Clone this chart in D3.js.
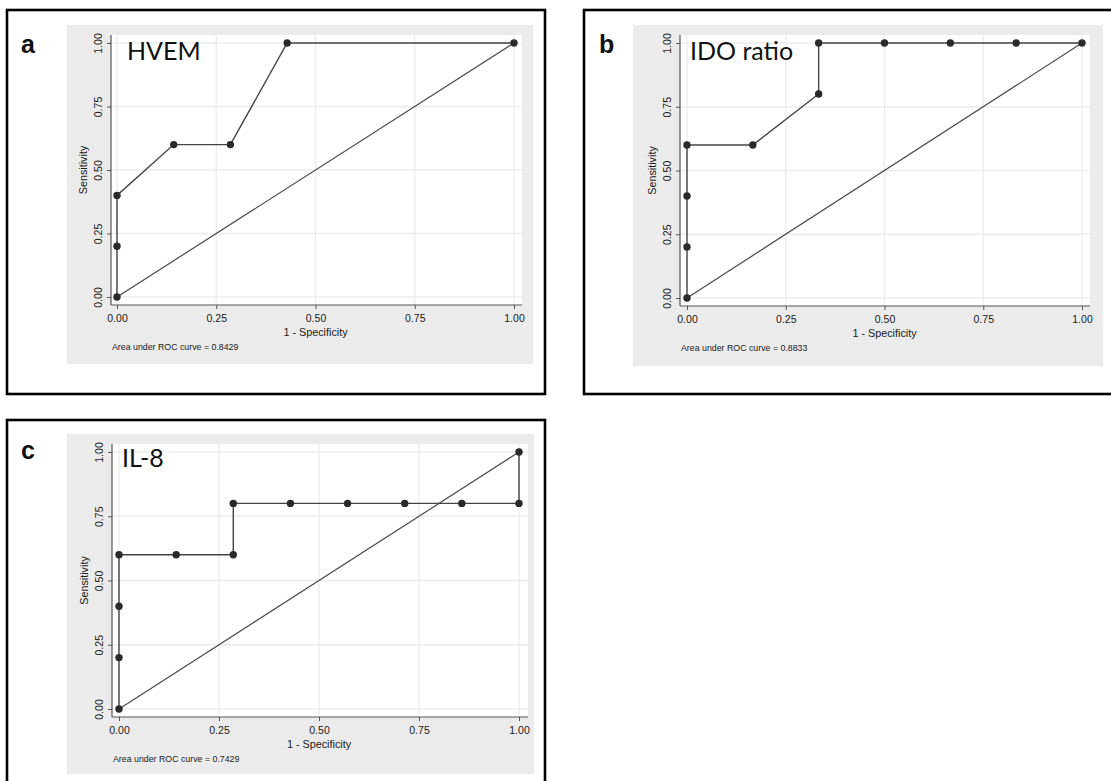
<!DOCTYPE html>
<html>
<head>
<meta charset="utf-8">
<script src="https://cdn.jsdelivr.net/npm/d3@7"></script>
<style>
  body { margin: 0; background: #fff; }
  svg { display: block; }
  text { font-family: "Liberation Sans", Arial, sans-serif; fill: #1a1a1a; }
  .title { font-family: Lato, "Open Sans", sans-serif; font-size: 25px; fill: #111; }
  .letter { font-weight: bold; font-size: 25px; fill: #111; }
</style>
</head>
<body>
<svg id="fig"></svg>
<script>
// ROC data (1 - specificity, sensitivity)
var hvemFpr = [0, 0, 0, 0.1429, 0.2857, 0.4286, 1];
var hvemTpr = [0, 0.2, 0.4, 0.6, 0.6, 1, 1];

var idoFpr = [0, 0, 0, 0, 0.1667, 0.3333, 0.3333, 0.5, 0.6667, 0.8333, 1];
var idoTpr = [0, 0.2, 0.4, 0.6, 0.6, 0.8, 1, 1, 1, 1, 1];

var il8Fpr = [0, 0, 0, 0, 0.1429, 0.2857, 0.2857, 0.4286, 0.5714, 0.7143, 0.8571, 1, 1];
var il8Tpr = [0, 0.2, 0.4, 0.6, 0.6, 0.6, 0.8, 0.8, 0.8, 0.8, 0.8, 0.8, 1];

var panelLetters = ["a", "b", "c"];
var panelTitles = ["HVEM", "IDO ratio", "IL-8"];
var aucValues = ["0.8429", "0.8833", "0.7429"];
var rocTicks = [0, 0.25, 0.5, 0.75, 1];

var screen = { width: 1111, height: 781 };

//layout of each panel on the page
var layouts = [
  { box: [7, 10, 538, 384], bg: [67, 25, 466, 339], frame: [111, 522, 35, 305],
    xr: [117, 514], yr: [297, 43], letter: [21, 53], title: [127, 60] },
  { box: [584, 10, 540, 384], bg: [633, 25, 470, 341], frame: [680, 1090, 35, 306],
    xr: [687, 1082], yr: [298, 43], letter: [599, 53], title: [690, 60] },
  { box: [7, 420, 538, 380], bg: [67, 434, 467, 340], frame: [112, 528, 444, 717],
    xr: [119, 519], yr: [709, 452], letter: [21, 459], title: [122, 467] }
];

var series = [
  { fpr: hvemFpr, tpr: hvemTpr },
  { fpr: idoFpr, tpr: idoTpr },
  { fpr: il8Fpr, tpr: il8Tpr }
];

var svg = d3.select("#fig").attr("width", screen.width).attr("height", screen.height);
var fmt = d3.format(".2f");

var drawPanel = function (i) {
  var L = layouts[i];
  var f = L.frame;
  var g = svg.append("g").classed("panel", true);

  g.append("rect")
    .attr("x", L.box[0]).attr("y", L.box[1])
    .attr("width", L.box[2]).attr("height", L.box[3])
    .attr("fill", "#fff").attr("stroke", "#000").attr("stroke-width", 2.6);

  g.append("rect")
    .attr("x", L.bg[0]).attr("y", L.bg[1])
    .attr("width", L.bg[2]).attr("height", L.bg[3])
    .attr("fill", "#ebebeb");

  g.append("rect")
    .attr("x", f[0]).attr("y", f[2])
    .attr("width", f[1] - f[0]).attr("height", f[3] - f[2])
    .attr("fill", "#fff");

  var x = d3.scaleLinear().domain([0, 1]).range(L.xr);
  var y = d3.scaleLinear().domain([0, 1]).range(L.yr);

  //grid
  var grid = g.append("g").attr("stroke", "#ececec").attr("stroke-width", 1.3);
  grid.selectAll("line.v").data(rocTicks).enter().append("line")
    .attr("x1", function (d) { return x(d); }).attr("x2", function (d) { return x(d); })
    .attr("y1", f[2]).attr("y2", f[3]);
  grid.selectAll("line.h").data(rocTicks).enter().append("line")
    .attr("y1", function (d) { return y(d); }).attr("y2", function (d) { return y(d); })
    .attr("x1", f[0]).attr("x2", f[1]);

  //axes
  var xAxis = d3.axisBottom(x).tickValues(rocTicks).tickFormat(fmt).tickSize(4).tickSizeOuter(0);
  var yAxis = d3.axisLeft(y).tickValues(rocTicks).tickFormat(fmt).tickSize(4).tickSizeOuter(0);

  var xg = g.append("g").attr("transform", "translate(0," + f[3] + ")").call(xAxis);
  xg.select(".domain").attr("d", "M" + f[0] + ",0H" + f[1]);
  var yg = g.append("g").attr("transform", "translate(" + f[0] + ",0)").call(yAxis);
  yg.select(".domain").attr("d", "M0," + f[2] + "V" + f[3]);

  [xg, yg].forEach(function (a) {
    a.select(".domain").attr("stroke", "#555").attr("stroke-width", 1.2);
    a.selectAll(".tick line").attr("stroke", "#555");
    a.selectAll("text").attr("font-size", 10.5).attr("fill", "#1a1a1a")
      .attr("font-family", "'Liberation Sans', Arial, sans-serif");
  });
  xg.selectAll("text").attr("dy", null).attr("y", 17);
  yg.selectAll("text")
    .attr("x", null).attr("dy", null)
    .attr("text-anchor", "middle")
    .attr("transform", "translate(-9,0) rotate(-90)");

  //labels
  g.append("text")
    .text("Sensitivity")
    .attr("font-size", 10.8)
    .attr("text-anchor", "middle")
    .attr("transform", "translate(" + (f[0] - 24) + "," + (L.yr[0] + L.yr[1]) / 2 + ") rotate(-90)");

  g.append("text")
    .text("1 - Specificity")
    .attr("font-size", 10.8)
    .attr("text-anchor", "middle")
    .attr("x", (L.xr[0] + L.xr[1]) / 2)
    .attr("y", f[3] + 31);

  g.append("text")
    .text("Area under ROC curve = " + aucValues[i])
    .attr("font-size", 8.8)
    .attr("x", f[0] + 1)
    .attr("y", f[3] + 45);

  //reference diagonal
  g.append("line")
    .attr("x1", x(0)).attr("y1", y(0)).attr("x2", x(1)).attr("y2", y(1))
    .attr("stroke", "#4a4a4a").attr("stroke-width", 1.2);

  //roc curve
  var s = series[i];
  var pts = s.fpr.map(function (v, k) { return [v, s.tpr[k]]; });
  var line = d3.line()
    .x(function (d) { return x(d[0]); })
    .y(function (d) { return y(d[1]); });
  g.append("path").datum(pts)
    .attr("d", line)
    .attr("fill", "none").attr("stroke", "#444").attr("stroke-width", 1.4);

  g.selectAll("circle").data(pts).enter().append("circle")
    .attr("cx", function (d) { return x(d[0]); })
    .attr("cy", function (d) { return y(d[1]); })
    .attr("r", 3.7)
    .attr("fill", "#2a2a2a");

  g.append("text").classed("letter", true)
    .text(panelLetters[i])
    .attr("x", L.letter[0]).attr("y", L.letter[1]);

  g.append("text").classed("title", true)
    .text(panelTitles[i])
    .attr("x", L.title[0]).attr("y", L.title[1]);
};

for (var i = 0; i < 3; i++) drawPanel(i);
</script>
</body>
</html>
